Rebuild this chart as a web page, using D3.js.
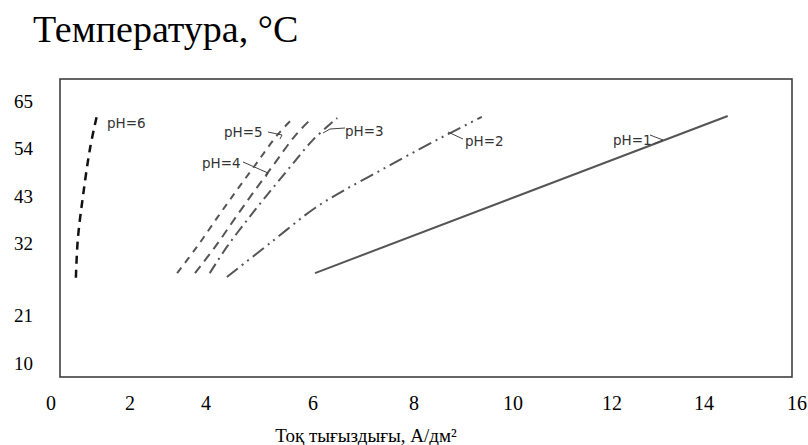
<!DOCTYPE html>
<html>
<head>
<meta charset="utf-8">
<script src="https://cdn.jsdelivr.net/npm/d3@7"></script>
<style>
  body { margin: 0; background: white; }
</style>
</head>
<body>
<script>
// tick labels as printed on the figure (spacing is uneven in the original)
let x_ticks = [0, 2, 4, 6, 8, 10, 12, 14, 16];
let y_ticks = [10, 21, 32, 43, 54, 65];

// current density (A/dm2) vs temperature (C) for each pH
let ph_names = ["pH=1", "pH=2", "pH=3", "pH=4", "pH=5", "pH=6"];
let ph1 = [[6.04, 27.4], [14.51, 61.5]];
let ph2 = [[4.39, 26.8], [5.20, 32.0], [6.04, 40.2], [6.63, 44.4], [7.39, 49.2], [8.12, 53.8], [8.73, 57.5], [9.37, 61.3]];
let ph3 = [[4.07, 27.4], [4.39, 31.4], [4.77, 37.4], [5.14, 43.2], [5.57, 49.6], [6.00, 55.9], [6.48, 61.0]];
let ph4 = [[3.71, 27.4], [4.17, 31.4], [4.56, 38.1], [4.92, 44.4], [5.29, 50.6], [5.66, 56.8], [5.98, 61.0]];
let ph5 = [[3.24, 27.4], [3.76, 31.4], [4.22, 38.1], [4.58, 44.4], [4.95, 50.6], [5.33, 57.0], [5.63, 61.0]];
let ph6 = [[0.63, 26.7], [0.68, 33.0], [0.81, 43.0], [0.99, 54.0], [1.16, 61.5]];
let series = [ph1, ph2, ph3, ph4, ph5, ph6];

let frame = { left: 60, top: 79, right: 792, bottom: 377 };
let width = 808, height = 445;
let svg, x, y;

// line looks, same order as series
let styles = [
  { color: "#555", w: 2, dash: null },
  { color: "#555", w: 2, dash: "14 5 2 5 2 5" },
  { color: "#555", w: 2, dash: "11 5 2 5" },
  { color: "#555", w: 2, dash: "9 6" },
  { color: "#555", w: 2, dash: "7 6" },
  { color: "#111", w: 2.5, dash: "8 6" }];

// label text pos + leader path
let labels = [
  { x: 613, y: 145, lead: "M650,135 L663,140 L653,144" },
  { x: 465, y: 146, lead: "M448,132 L463,139" },
  { x: 345, y: 136, lead: "M345,128 L330,129 L323,133" },
  { x: 202, y: 168, lead: "M243,162 L268,173 L266,177" },
  { x: 224, y: 137, lead: "M268,132 L282,135 L280,139" },
  { x: 107, y: 128, lead: null }];

window.addEventListener("load", (e) => {
  svg = d3.select("body")
    .append("svg")
      .attr("width", width)
      .attr("height", height);

  x = d3.scaleLinear()
    .domain(x_ticks)
    .range([51, 130, 206, 313, 414, 513, 612, 704, 797]);
  y = d3.scaleLinear()
    .domain(y_ticks)
    .range([363, 315, 243, 196, 148, 101]);

  svg.append("text")
    .attr("x", 33).attr("y", 42)
    .attr("font-family", "Liberation Serif")
    .attr("font-size", 38)
    .text("Температура, °C");

  svg.append("rect")
    .attr("x", frame.left).attr("y", frame.top)
    .attr("width", frame.right - frame.left)
    .attr("height", frame.bottom - frame.top)
    .attr("fill", "none")
    .attr("stroke", "#333")
    .attr("stroke-width", 1.5);

  svg.selectAll(".ylab")
    .data(y_ticks)
    .join("text")
      .attr("class", "ylab")
      .attr("x", 33)
      .attr("y", d => y(d))
      .attr("dy", "0.35em")
      .attr("text-anchor", "end")
      .attr("font-family", "Liberation Serif")
      .attr("font-size", 19)
      .text(d => d);

  svg.selectAll(".xlab")
    .data(x_ticks)
    .join("text")
      .attr("class", "xlab")
      .attr("x", d => x(d))
      .attr("y", 403)
      .attr("dy", "0.35em")
      .attr("text-anchor", "middle")
      .attr("font-family", "Liberation Serif")
      .attr("font-size", 20)
      .text(d => d);

  svg.append("text")
    .attr("x", 366).attr("y", 442)
    .attr("text-anchor", "middle")
    .attr("font-family", "Liberation Serif")
    .attr("font-size", 19)
    .text("Тоқ тығыздығы, А/дм²");

  let line = d3.line()
    .x(d => x(d[0]))
    .y(d => y(d[1]))
    .curve(d3.curveCatmullRom);

  series.forEach((s, i) => {
    let st = styles[i];
    svg.append("path")
      .attr("d", line(s))
      .attr("fill", "none")
      .attr("stroke", st.color)
      .attr("stroke-width", st.w)
      .attr("stroke-dasharray", st.dash);

    let lb = labels[i];
    svg.append("text")
      .attr("x", lb.x).attr("y", lb.y)
      .attr("font-family", "DejaVu Sans")
      .attr("font-size", 13.5)
      .attr("fill", "#333")
      .text(ph_names[i]);
    if (lb.lead) {
      svg.append("path")
        .attr("d", lb.lead)
        .attr("fill", "none")
        .attr("stroke", "#444")
        .attr("stroke-width", 1);
    }
  });
});
</script>
</body>
</html>
